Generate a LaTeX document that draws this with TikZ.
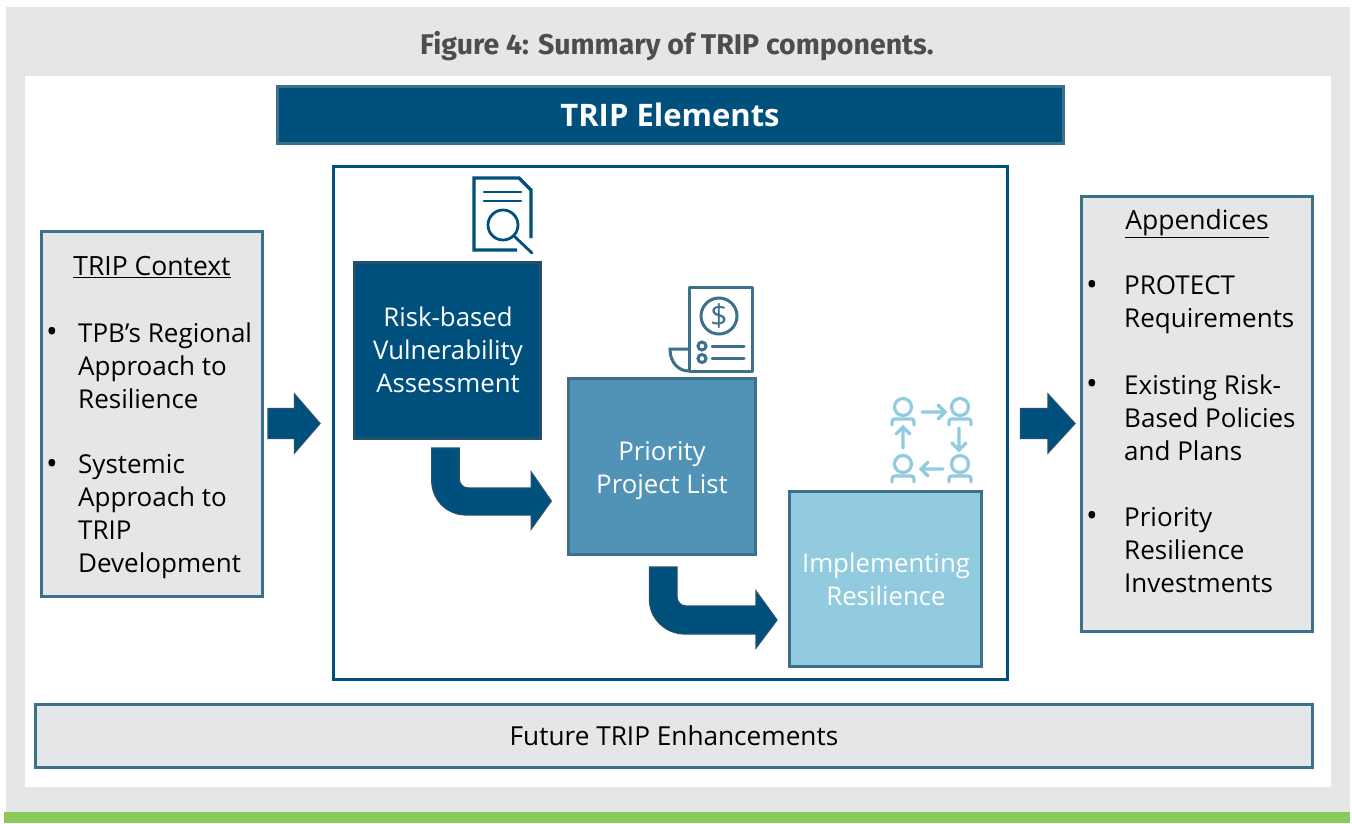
\documentclass[tikz,border=0pt]{standalone}
\usepackage{fontspec}
\setmainfont{Open Sans}
\newfontfamily\titlefont{Fira Sans}
\definecolor{navy}{HTML}{00507D}
\definecolor{edge}{HTML}{3D7089}
\definecolor{panel}{HTML}{E5E6E8}
\definecolor{midblue}{HTML}{5193B6}
\definecolor{lightblue}{HTML}{92CBDF}
\definecolor{green}{HTML}{8BC95B}
\definecolor{titlegrey}{HTML}{4D4D4F}
\definecolor{arrowedge}{HTML}{24506B}
\tikzset{
  x=1pt,y=-1pt,
  box/.style={rectangle,inner sep=0pt,outer sep=0pt,line width=#1,align=center},
  box/.default=3pt,
  panelbox/.style={box,draw=edge,fill=panel},
  body/.style={font=\fontsize{26}{33}\selectfont,text=black,align=left,inner sep=0pt},
  bul/.style={font=\fontsize{31}{33}\selectfont,text=black,inner sep=0pt},
  head/.style={font=\fontsize{26.5}{33}\selectfont,text=black,inner sep=0pt},
  inbox/.style={font=\fontsize{25.8}{33}\selectfont,text=white,align=center,inner sep=0pt},
  blockarrow/.style={fill=navy,draw=arrowedge,line width=1.2pt,line join=miter},
  iconA/.style={draw=navy,line width=3.2pt,line cap=round,fill=none},
  iconB/.style={draw=edge,line width=3pt,line cap=round,fill=none},
  iconC/.style={draw=lightblue,line width=3.2pt,line cap=round,fill=none},
}
\begin{document}
\begin{tikzpicture}
\useasboundingbox (0,0) rectangle (1352,823);
\fill[panel] (6,7) rectangle (1350,812);
\fill[white] (25,76) rectangle (1331,787);
\fill[green] (4,812) rectangle (1350,823);

\node[font=\titlefont\bfseries\fontsize{28.5}{32}\selectfont,text=titlegrey] (title) at (677,46) {Figure 4: Summary of TRIP components.};

\node[box,draw=edge,fill=navy,minimum width=786pt,minimum height=56.5pt,text=white,font=\bfseries\fontsize{31}{36}\selectfont] (elements) at (670,115) {TRIP Elements};

\node[box,draw=navy,fill=white,minimum width=674pt,minimum height=513pt] (frame) at (670.5,423) {};

% Left panel
\node[panelbox,minimum width=221pt,minimum height=365pt] (context) at (152,414) {};
\node[head] (contexthead) at (152,267) {\underline{TRIP Context}};
\node[bul] (b1) at (52,335) {•};
\node[body,anchor=west] (c1) at (78,365.5) {TPB’s Regional\\Approach to\\Resilience};
\node[bul] (b2) at (52,467) {•};
\node[body,anchor=west] (c2) at (78,517) {Systemic\\Approach to\\TRIP\\Development};

% Right panel
\node[panelbox,minimum width=231pt,minimum height=435pt] (appendix) at (1197,414) {};
\node[head] (appendixhead) at (1197,223.5) {\underline{Appendices}};
\node[bul] (b3) at (1092,288) {•};
\node[body,anchor=west] (a1) at (1124,305) {PROTECT\\Requirements};
\node[bul] (b4) at (1092,387) {•};
\node[body,anchor=west] (a2) at (1124,418) {Existing Risk-\\Based Policies\\and Plans};
\node[bul] (b5) at (1092,519) {•};
\node[body,anchor=west] (a3) at (1124,550.5) {Priority\\Resilience\\Investments};

% Step boxes
\node[box,draw=arrowedge,fill=navy,minimum width=186.5pt,minimum height=176pt] (risk) at (447.5,350) {};
\node[inbox] (risktext) at (448,350) {Risk-based\\Vulnerability\\Assessment};
\node[box,draw=edge,fill=midblue,minimum width=187pt,minimum height=176pt] (priority) at (662,466) {};
\node[inbox] (prioritytext) at (662,470.5) {Priority\\Project List};
\node[box,draw=edge,fill=lightblue,minimum width=192pt,minimum height=175pt] (impl) at (885.5,578.5) {};
\node[inbox] (impltext) at (886,579.5) {Implementing\\Resilience};

% Future
\node[panelbox,minimum width=1277pt,minimum height=63pt,font=\fontsize{26.2}{33}\selectfont] (future) at (674,735.5) {Future TRIP Enhancements};

% Straight block arrows
\draw[blockarrow] ([shift={(5.5,-5.5)}]context.east) -- ++(26.5,0) -- ++(0,-14.5) -- ++(25.5,29.5) -- ++(-25.5,29.5) -- ++(0,-14.5) -- ++(-26.5,0) -- cycle;
\draw[blockarrow] ([shift={(-61,-5.5)}]appendix.west) -- ++(27.5,0) -- ++(0,-14.5) -- ++(27,29.5) -- ++(-27,29.5) -- ++(0,-14.5) -- ++(-27.5,0) -- cycle;

% Bent arrows
\draw[blockarrow] ([shift={(77.5,10)}]risk.south west) -- ++(27.5,0) -- ++(0,31)
  .. controls +(0,5) and +(-5,0) .. ++(9,9) -- ++(63,0) -- ++(0,-16) -- ++(20,29) -- ++(-20,28) -- ++(0,-14) -- ++(-65,0)
  .. controls +(-20,0) and +(0,18) .. ++(-34.5,-34) -- cycle;
\draw[blockarrow] ([shift={(81,13)}]priority.south west) -- ++(27.5,0) -- ++(0,30)
  .. controls +(0,5) and +(-5,0) .. ++(9,9) -- ++(70,0) -- ++(0,-15) -- ++(21,29) -- ++(-21,28) -- ++(0,-14) -- ++(-71,0)
  .. controls +(-20,0) and +(0,18) .. ++(-35.5,-34) -- cycle;

% Document icon
\draw[iconA,line cap=butt] (517,250) -- (474,250) -- (474,178) -- (519,178) -- (531,190) -- (531,238);
\draw[iconA,line width=2.8pt] (484,192) -- (521,192) (484,201) -- (521,201);
\node[circle,draw=navy,line width=2.8pt,minimum size=30pt,inner sep=0pt] (lens) at (503,225) {};
\draw[navy,line width=2.8pt,line cap=round] (lens.south east) -- (532,253);

% Dollar icon
\draw[iconB,line cap=butt,line join=round] (689,371) -- (689,287) -- (752.5,287) -- (752.5,371) -- (689,371);
\node[circle,draw=edge,line width=3pt,minimum size=36pt,inner sep=0pt,text=edge,font=\fontsize{30}{30}\selectfont] (coin) at (719,316) {\$};
\node[circle,draw=edge,line width=3pt,minimum size=8pt,inner sep=0pt] (dot1) at (702,346) {};
\node[circle,draw=edge,line width=3pt,minimum size=8pt,inner sep=0pt] (dot2) at (702,358.5) {};
\draw[iconB] (712,346) -- (744,346) (712,358.5) -- (744,358.5);
\draw[iconB,line cap=butt] (689,349) -- (670,349) .. controls (670,362) and (678,371) .. (689,371);

% People icon
\foreach \hx/\hy/\nm in {903/407/p1,960/407/p2,903/464/p3,960/464/p4}{
  \node[circle,draw=lightblue,line width=3.2pt,minimum size=17pt,inner sep=0pt] (\nm) at (\hx,\hy) {};
  \draw[iconC] ([shift={(-11,18)}]\nm.center) -- ++(0,-3) .. controls +(0,-2) and +(-2,0) .. ++(3,-3) -- ++(16,0) .. controls +(2,0) and +(0,-2) .. ++(3,3) -- ++(0,3);
}
\draw[iconC] ([xshift=-8pt]p1.center) ++(27,5) -- ++(23,0) ++(-7,-7) -- ++(7,7) -- ++(-7,7);
\draw[iconC] (p2.center) ++(-1,21) -- ++(0,22) ++(-7,-7) -- ++(7,7) -- ++(7,-7);
\draw[iconC] (p4.center) ++(-17,5) -- ++(-22,0) ++(7,-7) -- ++(-7,7) -- ++(7,7);
\draw[iconC] (p3.center) ++(0,-16) -- ++(0,-21) ++(-7,7) -- ++(7,-7) -- ++(7,7);
\end{tikzpicture}
\end{document}
